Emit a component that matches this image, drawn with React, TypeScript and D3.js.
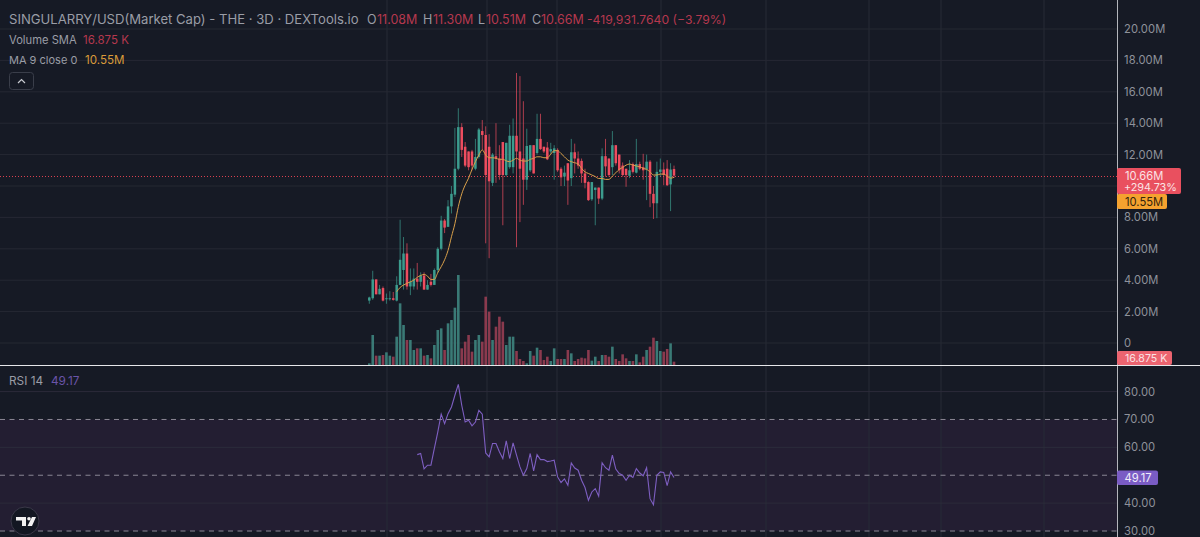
import * as d3 from "d3"

// values in millions
const opens = [2.7,2.85,4.05,3.1,3.5,2.8,2.8,2.85,2.7,3.7,4.65,5.7,3.6,3.6,4.1,3.9,4.3,3.4,3.9,3.7,4.65,6.0,7.8,7.4,8.7,9.45,11.1,13.75,12.5,12.2,12.2,11.1,11.85,13.5,13.25,12.5,10.2,11.9,11.75,12.8,10.7,11.2,11.2,13.2,12.2,11.75,10.4,11,12.6,12.1,13,12.5,12.45,12.2,12.1,12.3,11.1,10.6,11.45,10.5,12.15,11.75,11.6,10.8,10.25,9.15,9.75,9.9,9.2,11.9,11.75,11.2,12.6,12,11.3,11.1,10.65,11.4,10.85,11.4,11.2,11.05,11.55,9.5,8.9,10.9,11.05,11.1,10.1,11.08]
const closes = [2.9,4.05,3.1,3.45,2.7,2.85,2.85,2.75,3.7,5.3,5.7,3.6,3.9,4.1,3.9,4.3,3.4,3.7,3.7,4.65,6.0,7.8,7.35,8.7,9.5,11.1,13.75,12.3,11.3,11.2,11.3,11.85,13.6,13.25,10.7,10.3,12,11.75,10.7,10.7,12.75,13.2,13.2,12.2,11.1,10.4,12.55,12.6,10.8,13,12.35,12.2,11.7,12.35,12.4,11,10.55,10.85,10.35,12.15,11.75,11.3,10.8,10.2,9.1,10.25,9.9,9.2,11.9,11.25,10.7,12.6,11.45,11,10.7,10.7,11,10.9,11.4,11.1,11,11.55,9.5,8.9,10.9,11.05,10.7,10.05,11.05,10.66]
const highs = [2.95,4.6,4.05,3.7,3.6,3.15,3.3,3.25,4.25,7.85,6.75,6.35,4.75,4.75,5.1,4.5,4.5,4.0,4.4,4.75,6.1,8.1,7.9,9.1,10,13.7,14.95,14,12.8,12.2,12.3,13,13.7,14.2,13.8,13.3,12.1,14,12.6,12.8,12.75,13.9,14.3,17.2,17,15.4,13.65,12.6,12.6,14.6,14.6,12.5,12.8,12.75,12.6,12.4,11.2,11.3,11.45,13,12.7,12.2,11.75,11.1,10.3,10.25,9.9,9.9,12.4,13,11.75,13.5,12.6,12,11.5,11.1,11.65,11.5,13,11.55,12.05,12,11.65,10,11.55,11.75,11.5,11.65,11.45,11.3]
const lows = [2.5,2.75,3.1,3.1,2.65,2.5,2.7,2.7,2.65,3.7,3.4,3.4,3.05,3.4,3.4,3.6,3.4,3.4,3.6,3.7,4.45,5.9,7.0,7.4,8.25,9.3,11,11.85,11.2,11,11,11,11.75,12.3,6.35,5.4,10,10.2,10.4,7.5,10.6,11.1,10.8,6.1,7.7,8.8,9.75,10.9,10.8,12,12.3,12.1,11.65,12.05,10.4,10.9,10,10,8.8,10,10.8,11.1,10.2,9.85,9.05,9.05,7.5,8.85,9.1,10.6,10.6,10.7,11.3,10.8,10.6,9.95,10.5,10.8,10.8,11,10.4,9.1,8.65,7.9,7.95,10.6,10.05,10,8.4,10.51]
const volumes = [5,90,28,28,30,38,28,25,85,185,120,75,75,45,50,50,28,30,20,60,105,110,45,125,135,172,270,50,70,90,40,75,90,70,205,160,75,115,145,130,60,85,85,42,18,12,5,42,28,52,45,15,25,12,50,18,18,18,45,35,12,18,22,20,45,13,25,12,30,30,25,55,18,12,32,20,12,12,32,8,25,45,55,82,72,42,40,48,65,10]
const ma9 = [3.26,3.54,3.69,3.8,3.9,4.0,4.18,4.3,4.37,4.26,4.05,4.05,4.48,4.86,5.3,5.9,6.77,7.6,8.68,9.5,10.06,10.5,11.06,11.55,11.97,12.3,11.97,11.8,11.8,11.76,11.7,11.7,11.6,11.55,11.65,11.76,11.65,11.59,11.59,11.7,11.76,11.86,11.86,11.8,11.8,12.03,12.25,12.25,12.07,11.86,11.65,11.55,11.48,11.4,11.12,10.9,10.8,10.7,10.6,10.48,10.48,10.42,10.42,10.63,10.84,11.06,11.18,11.33,11.4,11.33,11.27,11.23,11.12,11.06,10.9,10.7,10.7,10.76,10.76,10.63,10.5,10.55]
const rsi = [57.4,57.8,52.3,53.6,53.6,59.6,65.5,71.9,68.5,72.1,74.5,78.7,82.6,75.1,69.1,69.7,67.7,69.1,73.3,71.9,58,56.6,61.4,61.4,58.4,56,62.3,56,61.6,57.2,53,50,52.4,57.8,51.6,57.4,55.6,55.6,54.9,55.1,55.4,49.4,47.4,48.7,46.4,54.4,52.6,51.8,48.2,45.6,41,44,45.2,42.5,54.5,52.7,51.8,57.2,52.2,50.6,50,48.2,50,49.2,52.4,50.8,49.8,52.7,41.6,39.4,50,51.2,51,46.3,51.2,49.17]

const priceTicks = [0, 2, 4, 6, 8, 12, 14, 16, 18, 20]
const priceGrid = [0, 2, 4, 6, 8, 10, 12, 14, 16, 18, 20]
const rsiTicks = [30, 40, 60, 70, 80]
const rsiGrid = [40, 60, 80]
const rsiDashed = [30, 50, 70]
const verticals = [387, 487, 557, 661, 766, 869, 941, 1044]

const W = 1200
const H = 537
const axisX = 1117
const paneY = 365
const font = "Inter, 'Noto Sans', sans-serif"

const bg = "#161a25"
const up = "#3c9c8e"
const down = "#ee4d5f"

const x = d3.scaleLinear().domain([0, 89]).range([369.3, 674])
const y = d3.scaleLinear().domain([0, 20]).range([343, 29])
const yVol = d3.scaleLinear().domain([0, 270]).range([paneY, 275])
const yRsi = d3.scaleLinear().domain([30, 80]).range([531, 391.6])

const maLine = d3.line<number>().x((_, i) => x(i + 8)).y((d) => y(d)).curve(d3.curveMonotoneX)
const rsiLine = d3.line<number>().x((_, i) => x(i + 14)).y((d) => yRsi(d))

const fmt = d3.format(".2f")
const axisText = "#8f929b"
const lastY = Math.round(y(10.66)) + 0.5

function Legend() {
  const red = "#b5384e"
  const grey = "#9a9da6"
  return (
    <g fontFamily={font}>
      <text x={9} y={24} fontSize={13.1} fill={grey}>SINGULARRY/USD(Market Cap) - THE · 3D · DEXTools.io</text>
      <text x={367} y={24} fontSize={12.5} fill={grey}>O</text>
      <text x={377} y={24} fontSize={12.5} fill={red}>11.08M</text>
      <text x={423} y={24} fontSize={12.5} fill={grey}>H</text>
      <text x={433} y={24} fontSize={12.5} fill={red}>11.30M</text>
      <text x={478} y={24} fontSize={12.5} fill={grey}>L</text>
      <text x={486} y={24} fontSize={12.5} fill={red}>10.51M</text>
      <text x={532} y={24} fontSize={12.5} fill={grey}>C</text>
      <text x={541} y={24} fontSize={12.5} fill={red}>10.66M</text>
      <text x={587} y={24} fontSize={12.2} fill={red}>-419,931.7640 (−3.79%)</text>
      <text x={9} y={44} fontSize={11.2} fill={grey}>Volume SMA</text>
      <text x={83} y={44} fontSize={11.5} fill={red}>16.875 K</text>
      <text x={9} y={64} fontSize={11} fill={grey}>MA 9 close 0</text>
      <text x={85} y={64} fontSize={11.6} fill="#d99a3a">10.55M</text>
      <rect x={9.5} y={72.5} width={24} height={17} rx={3} fill="none" stroke="#3a3e4a" />
      <path d="M18 83 L21.5 79.5 L25 83" fill="none" stroke="#c8cad0" strokeWidth={1.2} />
      <text x={9} y={385} fontSize={11.8} fill={grey}>RSI 14</text>
      <text x={51} y={385} fontSize={11.8} fill="#6a54a8">49.17</text>
    </g>
  )
}

export default function App() {
  return (
    <svg width={W} height={H} style={{ position: "fixed", left: 0, top: 0, background: bg }}>
      <rect width={W} height={H} fill={bg} />

      {/* rsi band */}
      <rect x={0} y={yRsi(70)} width={axisX} height={yRsi(30) - yRsi(70)} fill="#231e32" />

      {/* grid */}
      {verticals.map((v) => (
        <line key={v} x1={v} x2={v} y1={0} y2={H} stroke="#262a36" />
      ))}
      {priceGrid.map((t) => (
        <line key={t} x1={0} x2={axisX} y1={y(t)} y2={y(t)} stroke="#252833" />
      ))}
      {rsiGrid.map((t) => (
        <line key={t} x1={0} x2={axisX} y1={yRsi(t)} y2={yRsi(t)} stroke="#2c2b3a" />
      ))}

      {/* volume */}
      {volumes.map((v, i) => (
        <rect
          key={i}
          x={x(i) - 1.3}
          y={yVol(v)}
          width={2.6}
          height={yVol(0) - yVol(v)}
          fill={closes[i] >= opens[i] ? "#3a7a76" : "#8a3a4e"}
        />
      ))}

      {/* last price line */}
      <line x1={0} x2={axisX} y1={lastY} y2={lastY} stroke="#d8404f" strokeDasharray="1 2" />

      {/* candles */}
      {opens.map((o, i) => {
        const c = closes[i]
        const col = c >= o ? up : down
        return (
          <g key={i}>
            <line x1={x(i)} x2={x(i)} y1={y(highs[i])} y2={y(lows[i])} stroke={col} strokeOpacity={0.7} />
            <rect
              x={x(i) - 1.25}
              y={y(Math.max(o, c))}
              width={2.5}
              height={Math.max(1, Math.abs(y(o) - y(c)))}
              fill={col}
            />
          </g>
        )
      })}

      <path d={maLine(ma9) ?? ""} fill="none" stroke="#d9a04a" strokeWidth={1} />

      {/* rsi */}
      {rsiDashed.map((t) => (
        <line key={t} x1={0} x2={axisX} y1={yRsi(t)} y2={yRsi(t)} stroke="#8a8794" strokeDasharray="5 4.5" />
      ))}
      <path d={rsiLine(rsi) ?? ""} fill="none" stroke="#7e5fc2" strokeWidth={1.1} />

      {/* axis */}
      <rect x={axisX} y={0} width={W - axisX} height={H} fill={bg} />
      <line x1={axisX + 0.5} x2={axisX + 0.5} y1={0} y2={H} stroke="#b4b6bc" />
      <line x1={0} x2={W} y1={paneY + 0.5} y2={paneY + 0.5} stroke="#e6e7ea" strokeWidth={1.2} />

      <g fontFamily={font} fontSize={11.2} fill={axisText} letterSpacing={0.1}>
        {priceTicks.map((t) => (
          <text key={t} x={1124} y={y(t) + 4}>{t === 0 ? "0" : `${fmt(t)}M`}</text>
        ))}
        {rsiTicks.map((t) => (
          <text key={t} x={1124} y={yRsi(t) + 4}>{fmt(t)}</text>
        ))}
      </g>

      {/* price labels */}
      <g fontFamily={font} fontSize={11.2}>
        <rect x={1117} y={168} width={64} height={26} rx={2} fill="#e9505f" />
        <text x={1125} y={179.5} fill="#fbe3e5">10.66M</text>
        <text x={1124} y={191} fill="#fbe3e5" fontSize={10.8}>+294.73%</text>
        <rect x={1117} y={194} width={50} height={15} rx={2} fill="#f5a22f" />
        <text x={1125} y={205.5} fill="#33240c">10.55M</text>
        <rect x={1117} y={351} width={55} height={14} rx={2} fill="#ec6470" />
        <text x={1125} y={362} fill="#fbe3e5" fontSize={10.6}>16.875 K</text>
        <rect x={1117} y={470.5} width={41} height={14.5} rx={2} fill="#7a5cc4" />
        <text x={1124.5} y={482} fill="#f1edfa">49.17</text>
      </g>

      <Legend />

      {/* tradingview badge */}
      <circle cx={25} cy={521} r={14} fill="#131722" stroke="#3a3848" />
      <path d="M16 517 H26 V526 H22 V520.5 H16 Z M32 517 H36 L32 526 H27.5 Z" fill="#f2f2f2" />
      <circle cx={29} cy={518.8} r={1.8} fill="#f2f2f2" />
    </svg>
  )
}
